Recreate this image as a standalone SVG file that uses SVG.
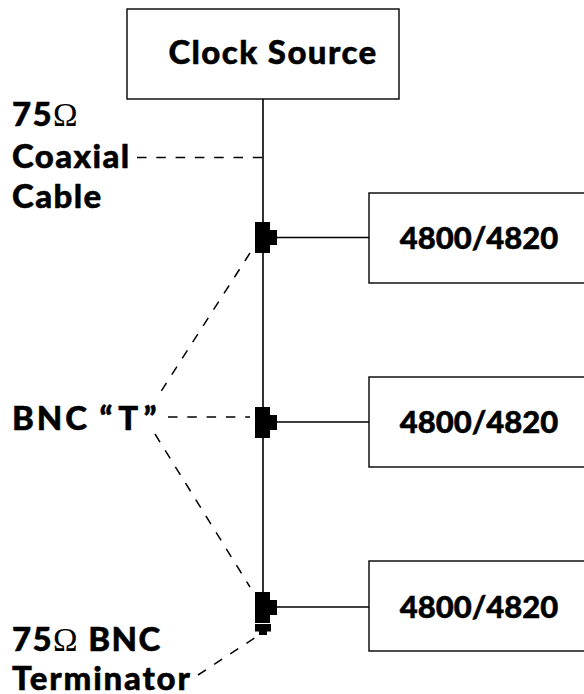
<svg xmlns="http://www.w3.org/2000/svg" width="584" height="694" viewBox="0 0 584 694">
<style>
.box{fill:#fff;stroke:#000;stroke-width:1.4}
.line{fill:none;stroke:#000;stroke-width:1.6}
.dash{fill:none;stroke:#000;stroke-width:1.5;stroke-dasharray:9.5 9.8}
text{font-family:"Lato","Noto Sans",sans-serif;font-weight:900;font-size:33px;letter-spacing:1.4px;fill:#000;stroke:#000;stroke-width:.5}
.c{text-anchor:middle}
.n{font-size:31px;letter-spacing:0}
.o{font-family:"Liberation Serif",serif;font-weight:400;stroke:none}
</style>
<defs>
<path id="t" d="M255 -15.500H270V-7.500H277V7.500H270V15.500H255Z" fill="#000"/>
</defs>
<g id="connectors">
<path class="line" d="M263 99V600M263 237.500H369M263 422H369M263 607H369"/>
<path class="dash" d="M137 157.500H263M250 253L160 393M168 417H250M155 434L250 587M198 675L256 637"/>
</g>
<g id="clock-source"><rect class="box" x="127" y="9" width="272" height="90"/><text class="c" x="273" y="64">Clock Source</text></g>
<g id="device-1"><rect class="box" x="369" y="193" width="216" height="90"/><text class="c n" x="479" y="249">4800/4820</text></g>
<g id="device-2"><rect class="box" x="369" y="377" width="216" height="90"/><text class="c n" x="479" y="433">4800/4820</text></g>
<g id="device-3"><rect class="box" x="369" y="561" width="216" height="90"/><text class="c n" x="479" y="618">4800/4820</text></g>
<g id="tee-1"><use href="#t" y="237.500"/></g>
<g id="tee-2"><use href="#t" y="422.500"/></g>
<g id="tee-3"><use href="#t" y="607.500"/><path d="M255 624H271V631.500H267V635H259V631.500H255Z" fill="#000"/></g>
<g id="label-cable"><text x="12" y="126">75<tspan class="o">Ω</tspan></text><text x="12" y="168">Coaxial</text><text x="12" y="208">Cable</text></g>
<g id="label-tee"><text x="12" y="430" style="letter-spacing:2.900px;word-spacing:-1px">BNC <tspan style="letter-spacing:5.500px">“T”</tspan></text></g>
<g id="label-term"><text x="12" y="651">75<tspan class="o">Ω</tspan> BNC</text><text x="12" y="690" style="letter-spacing:1.800px">Terminator</text></g>
</svg>
